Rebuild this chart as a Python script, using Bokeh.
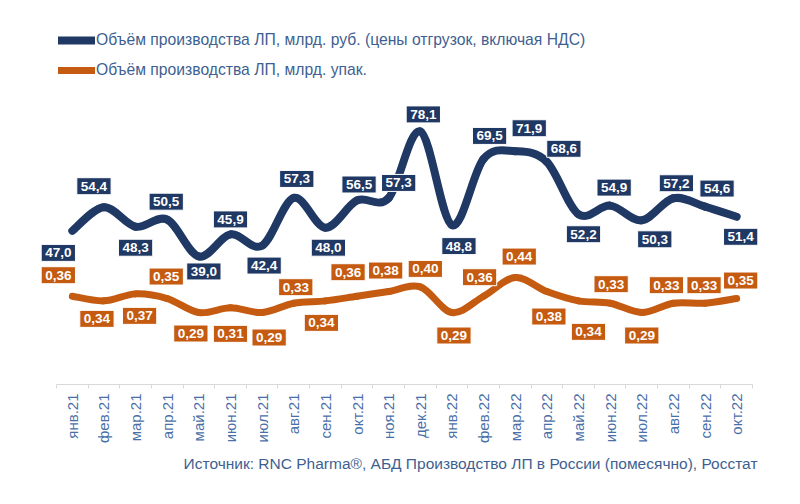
import math
from bokeh.plotting import figure
from bokeh.models import (Range1d, FixedTicker, Label, Legend, LegendItem, Title,
                          ColumnDataSource)
from bokeh.embed import file_html
from bokeh.resources import INLINE

# ---------------- data ----------------
months = ["янв.21", "фев.21", "мар.21", "апр.21", "май.21", "июн.21", "июл.21",
          "авг.21", "сен.21", "окт.21", "ноя.21", "дек.21", "янв.22", "фев.22",
          "мар.22", "апр.22", "май.22", "июн.22", "июл.22", "авг.22", "сен.22", "окт.22"]
rub_bn = [47.0, 54.4, 48.3, 50.5, 39.0, 45.9, 42.4, 57.3, 48.0, 56.5, 57.3,
          78.1, 48.8, 69.5, 71.9, 68.6, 52.2, 54.9, 50.3, 57.2, 54.6, 51.4]
packs_bn = [0.36, 0.34, 0.37, 0.35, 0.29, 0.31, 0.29, 0.33, 0.34, 0.36, 0.38,
            0.40, 0.29, 0.36, 0.44, 0.38, 0.34, 0.33, 0.29, 0.33, 0.33, 0.35]
series_names = ["Объём производства ЛП, млрд. руб. (цены отгрузок, включая НДС)",
                "Объём производства ЛП, млрд. упак."]
source_text = "Источник: RNC Pharma®, АБД Производство ЛП в России (помесячно), Росстат"

# label nudges (screen px, +dy = downwards)
rub_dx = [-14, -10, 0, -1, 5, 0, 2, 3, 3, 2, 10, 3, 7, 6, 14, 17, 5, 4, 13, 3, 12, 4]
rub_dy = [22, -21, 21, -18, 15, -15, 20, -19, 20, -16, -15, -17, 21, -23, -23, -13, 20, -18, 19, -15, -18, 20]
pack_dx = [-14, -7, 4, -1, -8, 0, 7, 2, -4, -9, -3, 5, 2, -4, 4, 2, 10, 1, 0, -7, -1, 4]
pack_dy = [-21, 18, 22, -22, 21, 26, 25, -16, 22, -24, -21, -18, 23, -19, -21, 25, 31, -19, 23, -18, -18, -18]

NAVY = "#1F3864"
ORANGE = "#C55A11"
TEXT_BLUE = "#3E5F91"
AXIS_BLUE = "#4A6FA8"
FONT = "Liberation Sans"

xs = list(range(len(months)))
n = len(months)
PX_PER_CAT = 696.0 / n          # category width in pixels
PAD_L, PAD_R = 26, 28           # extra frame room for edge labels (px)

p = figure(width=784, height=488,
           x_range=Range1d(-0.5 - PAD_L / PX_PER_CAT, n - 0.5 + PAD_R / PX_PER_CAT),
           y_range=Range1d(-1.03, 113.4), output_backend="svg", toolbar_location=None,
           min_border_left=56 - PAD_L, min_border_right=32 - PAD_R,
           min_border_top=18, min_border_bottom=104,
           y_axis_location=None, x_axis_location="below")
p.extra_y_ranges = {"pack": Range1d(-0.019, 1.552)}
p.xgrid.visible = False
p.ygrid.visible = False
p.outline_line_color = None
p.background_fill_color = "white"
p.border_fill_color = "white"


def smooth_source(xv, yv):
    m = len(xv)
    d = dict(x0=[], y0=[], x1=[], y1=[], cx0=[], cy0=[], cx1=[], cy1=[])
    for i in range(m - 1):
        xa, ya = xv[i], yv[i]
        xb, yb = xv[i + 1], yv[i + 1]
        xp, yp = (xv[i - 1], yv[i - 1]) if i > 0 else (xa, ya)
        xn, yn = (xv[i + 2], yv[i + 2]) if i + 2 < m else (xb, yb)
        d["x0"].append(xa); d["y0"].append(ya)
        d["x1"].append(xb); d["y1"].append(yb)
        d["cx0"].append(xa + (xb - xp) / 6.0); d["cy0"].append(ya + (yb - yp) / 6.0)
        d["cx1"].append(xb - (xn - xa) / 6.0); d["cy1"].append(yb - (yn - ya) / 6.0)
    return ColumnDataSource(d)


r_rub = p.bezier(x0="x0", y0="y0", x1="x1", y1="y1", cx0="cx0", cy0="cy0", cx1="cx1", cy1="cy1",
                 source=smooth_source(xs, rub_bn), line_color=NAVY, line_width=8, line_cap="round")
r_pack = p.bezier(x0="x0", y0="y0", x1="x1", y1="y1", cx0="cx0", cy0="cy0", cx1="cx1", cy1="cy1",
                  source=smooth_source(xs, packs_bn), line_color=ORANGE, line_width=7, line_cap="round",
                  y_range_name="pack")

LABEL_STYLE = dict(text_align="center", text_baseline="middle", text_font=FONT,
                   text_font_size="13.5px", text_font_style="bold", text_color="white",
                   border_line_color="white", border_line_width=1, padding=4)

for i, v in enumerate(rub_bn):
    p.add_layout(Label(x=xs[i], y=v, text=f"{v:.1f}".replace(".", ","),
                       x_offset=rub_dx[i], y_offset=-rub_dy[i],
                       background_fill_color=NAVY, **LABEL_STYLE))
for i, v in enumerate(packs_bn):
    p.add_layout(Label(x=xs[i], y=v, y_range_name="pack", text=f"{v:.2f}".replace(".", ","),
                       x_offset=pack_dx[i], y_offset=-pack_dy[i],
                       background_fill_color=ORANGE, **LABEL_STYLE))

# x axis
ax = p.xaxis[0]
ax.bounds = (-0.5, n - 0.5)
ax.ticker = FixedTicker(ticks=xs, minor_ticks=[i - 0.5 for i in range(n + 1)])
ax.major_label_overrides = {i: m for i, m in enumerate(months)}
ax.major_label_orientation = math.pi / 2
ax.major_tick_line_color = None
ax.major_tick_out = 0
ax.major_tick_in = 0
ax.minor_tick_line_color = "#D9D9D9"
ax.minor_tick_out = 4
ax.minor_tick_in = 0
ax.axis_line_color = "#D9D9D9"
ax.axis_line_width = 1
ax.major_label_standoff = 5
ax.major_label_text_font = FONT
ax.major_label_text_font_size = "15px"
ax.major_label_text_color = AXIS_BLUE

legend = Legend(items=[LegendItem(label=series_names[0], renderers=[r_rub]),
                       LegendItem(label=series_names[1], renderers=[r_pack])],
                location=(2 + PAD_L, 304), orientation="vertical",
                glyph_width=37, glyph_height=20, label_height=20, label_standoff=1,
                spacing=10, padding=0, margin=0,
                border_line_color=None, background_fill_alpha=0,
                label_text_font=FONT, label_text_font_size="15.7px", label_text_color=TEXT_BLUE)
p.add_layout(legend)

p.add_layout(Title(text=source_text, align="right", text_font=FONT, text_font_size="15.5px",
                   text_font_style="normal", text_color=TEXT_BLUE, standoff=12,
                   offset=PAD_R - 5), "below")

open("out.html", "w").write(file_html(p, INLINE))
